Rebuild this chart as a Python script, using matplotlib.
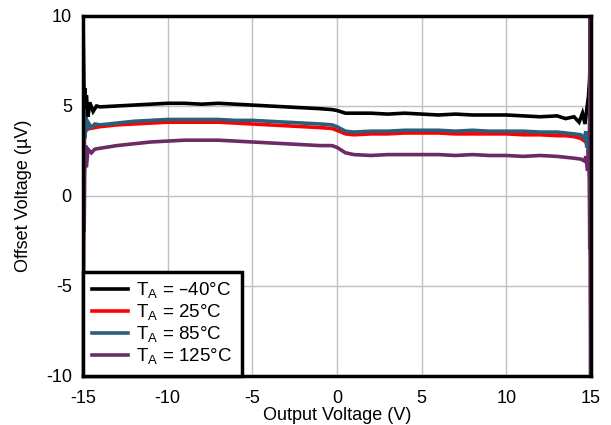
import matplotlib
matplotlib.use("Agg")
import matplotlib.pyplot as plt

plt.rcParams['font.family'] = ['Liberation Sans', 'DejaVu Sans']
plt.rcParams['axes.unicode_minus'] = False

# Offset voltage (uV) vs output voltage (V)
vout_m40 = [-15, -14.97, -14.93, -14.9, -14.85, -14.8, -14.7, -14.6, -14.4, -14.2, -14, -13, -12, -11, -10,
            -9, -8, -7, -6, -5, -4, -3, -2, -1, -0.3, 0, 0.5, 1, 2, 3, 4, 5, 6, 7, 8, 9, 10,
            11, 12, 13, 13.5, 14, 14.3, 14.5, 14.65, 14.75, 14.85, 14.92, 14.97, 15]
vos_m40 = [10, 8.0, 5.0, 6.0, 4.2, 5.6, 4.4, 5.2, 4.7, 5.0, 4.95, 5.0, 5.05, 5.1, 5.15,
           5.15, 5.1, 5.15, 5.1, 5.05, 5.0, 4.95, 4.9, 4.85, 4.8, 4.75, 4.6, 4.6, 4.6, 4.55, 4.6, 4.55, 4.5, 4.55, 4.5, 4.5, 4.5,
           4.45, 4.4, 4.45, 4.3, 4.4, 4.1, 4.6, 4.0, 4.8, 5.5, 6.5, 8.5, 10]

vout_25 = [-15, -14.97, -14.93, -14.9, -14.8, -14.6, -14.3, -14, -13, -12, -11, -10,
           -9, -8, -7, -6, -5, -4, -3, -2, -1, -0.3, 0, 0.5, 1, 2, 3, 4, 5, 6, 7, 8, 9, 10,
           11, 12, 13, 13.5, 14, 14.4, 14.7, 14.82, 14.9, 14.95, 14.98, 15]
vos_25 = [-10, -2, 2.5, 3.4, 3.7, 3.75, 3.8, 3.85, 3.95, 4.0, 4.05, 4.1,
          4.1, 4.1, 4.1, 4.05, 4.0, 3.95, 3.9, 3.85, 3.8, 3.75, 3.65, 3.45, 3.4, 3.45, 3.45, 3.5, 3.5, 3.5, 3.45, 3.45, 3.45, 3.45,
          3.4, 3.4, 3.35, 3.35, 3.3, 3.2, 3.0, 2.7, 2.0, 0.0, -6, -10]

vout_85 = [-15, -14.97, -14.93, -14.9, -14.85, -14.8, -14.7, -14.5, -14.3, -14, -13, -12, -11, -10,
           -9, -8, -7, -6, -5, -4, -3, -2, -1, -0.3, 0, 0.5, 1, 2, 3, 4, 5, 6, 7, 8, 9, 10,
           11, 12, 13, 13.5, 14, 14.4, 14.6, 14.7, 14.75, 14.8, 14.85, 14.9, 14.95, 15]
vos_85 = [-10, 0, 4.8, 3.2, 4.4, 3.6, 4.1, 3.8, 4.0, 3.95, 4.05, 4.15, 4.2, 4.25,
          4.25, 4.25, 4.25, 4.2, 4.2, 4.15, 4.1, 4.05, 4.0, 3.95, 3.85, 3.6, 3.55, 3.6, 3.6, 3.65, 3.65, 3.65, 3.6, 3.65, 3.6, 3.6,
          3.6, 3.55, 3.55, 3.5, 3.45, 3.4, 3.2, 3.6, 2.7, 3.6, 2.5, 3.3, 6.0, 8.5]

vout_125 = [-15.0, -14.98, -14.96, -14.93, -14.9, -14.85, -14.8, -14.7, -14.5, -14.3, -14, -13, -12, -11, -10,
            -9, -8, -7, -6, -5, -4, -3, -2, -1, -0.3, 0, 0.5, 1, 2, 3, 4, 5, 6, 7, 8, 9, 10,
            11, 12, 13, 13.5, 14, 14.4, 14.6, 14.7, 14.8, 14.85, 14.9, 14.93, 14.95, 14.97, 15]
vos_125 = [10, -10, 3.0, -2.0, 1.2, 2.8, 1.6, 2.6, 2.4, 2.6, 2.65, 2.8, 2.9, 3.0, 3.05,
           3.1, 3.1, 3.1, 3.05, 3.0, 2.95, 2.9, 2.85, 2.8, 2.8, 2.7, 2.4, 2.3, 2.25, 2.3, 2.3, 2.3, 2.3, 2.25, 2.3, 2.25, 2.25,
           2.2, 2.25, 2.2, 2.15, 2.1, 2.05, 1.95, 2.2, 1.4, 2.5, 1.0, -3.0, 10, -10, -10]

series = [
    (vout_m40, vos_m40, 'black', r'T$_\mathregular{A}$ = –40°C'),
    (vout_25, vos_25, '#ff0000', r'T$_\mathregular{A}$ = 25°C'),
    (vout_85, vos_85, '#2b5e78', r'T$_\mathregular{A}$ = 85°C'),
    (vout_125, vos_125, '#6a2b66', r'T$_\mathregular{A}$ = 125°C'),
]

fig = plt.figure(figsize=(6.11, 4.25), dpi=100)
ax = fig.add_axes([0.1358, 0.1153, 0.8314, 0.8471])

for x, y, c, lab in series:
    ax.plot(x, y, color=c, lw=2.6, label=lab, solid_joinstyle='miter')

ax.set_xlim(-15, 15)
ax.set_ylim(-10, 10)
ax.set_xticks([-15, -10, -5, 0, 5, 10, 15])
ax.set_yticks([-10, -5, 0, 5, 10])
ax.tick_params(axis='x', length=0, labelsize=13, pad=10)
ax.tick_params(axis='y', length=0, labelsize=13, pad=8)
ax.grid(True, color='#c0c0c0', lw=1)
ax.set_axisbelow(True)
for s in ax.spines.values():
    s.set_linewidth(2.5)

ax.set_xlabel('Output Voltage (V)', fontsize=13, labelpad=0)
ax.set_ylabel('Offset Voltage (µV)', fontsize=13, labelpad=10)

leg = ax.legend(loc='lower left', fontsize=13.5, frameon=True, fancybox=False,
                borderaxespad=0, handlelength=1.9, handletextpad=0.45,
                labelspacing=0.08, borderpad=0.5)
leg.get_frame().set_edgecolor('black')
leg.get_frame().set_linewidth(2.5)
leg.get_frame().set_alpha(1)

fig.savefig('out.png', dpi=100)
